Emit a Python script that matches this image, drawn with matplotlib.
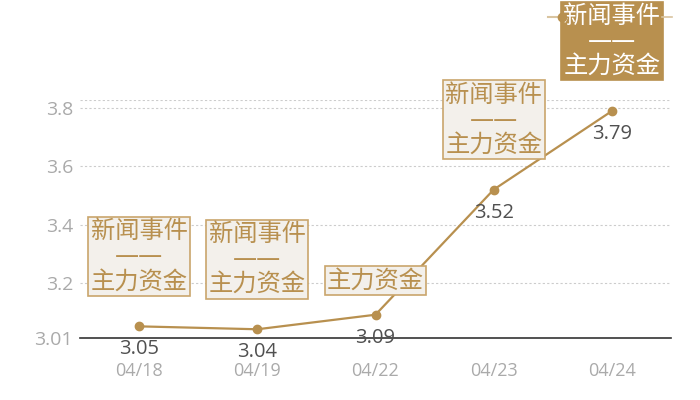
import matplotlib
matplotlib.use("Agg")
import matplotlib.pyplot as plt
from matplotlib.lines import Line2D

dates = ["04/18", "04/19", "04/22", "04/23", "04/24"]
prices = [3.05, 3.04, 3.09, 3.52, 3.79]
events = ["新闻事件\n——\n主力资金", "新闻事件\n——\n主力资金", "主力资金",
          "新闻事件\n——\n主力资金", "新闻事件\n——\n主力资金"]
highlight = [False, False, False, False, True]
yticks = [3.01, 3.2, 3.4, 3.6, 3.8]
ymin, ymax = 3.01, 3.8279

GOLD = "#b8904f"
EDGE = "#c9a56c"
FILL = "#f3f0eb"
DPI = 100

plt.rcParams['font.family'] = ['Open Sans', 'Noto Sans CJK SC', 'DejaVu Sans']

fig = plt.figure(figsize=(7, 4), dpi=DPI)
ax = fig.add_axes([80/700, 1-338/400, (671-80)/700, (338-100)/400])
x = list(range(len(dates)))
ax.set_xlim(-0.5, len(dates) - 0.5)
ax.set_ylim(ymin, ymax)

for yv in yticks[1:] + [ymax]:
    ax.axhline(yv, color="#cccccc", lw=0.8, ls=(0, (2, 2)), zorder=1)
ax.axhline(ymin, color="#333333", lw=1.2, zorder=2, clip_on=False)

ax.plot(x, prices, color=GOLD, lw=1.6, marker="o", ms=6, zorder=4, clip_on=False)

for i, (xi, p) in enumerate(zip(x, prices)):
    ax.annotate(f"{p:.2f}", (xi, p), xytext=(0, -23), textcoords="offset pixels",
                ha="center", va="center", fontsize=14.5, color="#505050", zorder=5)

for i, (xi, p, ev, hl) in enumerate(zip(x, prices, events, highlight)):
    multi = "\n" in ev
    dy = 70 if multi else 34
    fc = GOLD if hl else FILL
    tc = "white" if hl else GOLD
    ec = GOLD if hl else EDGE
    ax.annotate(ev, (xi, p), xytext=(0, dy), textcoords="offset pixels",
                ha="center", va="center", fontsize=17.5, color=tc,
                family=['DejaVu Sans', 'Noto Sans CJK SC'], linespacing=1.05,
                bbox=dict(boxstyle="square,pad=0.1", fc=fc, ec=ec, lw=1.2),
                zorder=6, annotation_clip=False)
    if hl:
        px, py = ax.transData.transform((xi, p))
        fig.add_artist(Line2D([px - 64, px - 50], [py + 94, py + 94],
                              transform=None, color="#d9c4a0", lw=1.5))
        fig.add_artist(Line2D([px - 50], [py + 94], transform=None, color=GOLD,
                              marker="o", ms=6))
        fig.add_artist(Line2D([px + 50, px + 60], [py + 94, py + 94],
                              transform=None, color="#d9c4a0", lw=1.2))

ax.set_xticks(x)
ax.set_xticklabels(dates)
ax.set_yticks(yticks)
ax.set_yticklabels([f"{v:g}" for v in yticks])
ax.tick_params(axis="x", length=0, pad=17, labelsize=13, labelcolor="#aaaaaa")
ax.tick_params(axis="y", length=0, pad=5, labelsize=14, labelcolor="#aaaaaa")
for s in ax.spines.values():
    s.set_visible(False)

fig.savefig("out.png", dpi=DPI)
